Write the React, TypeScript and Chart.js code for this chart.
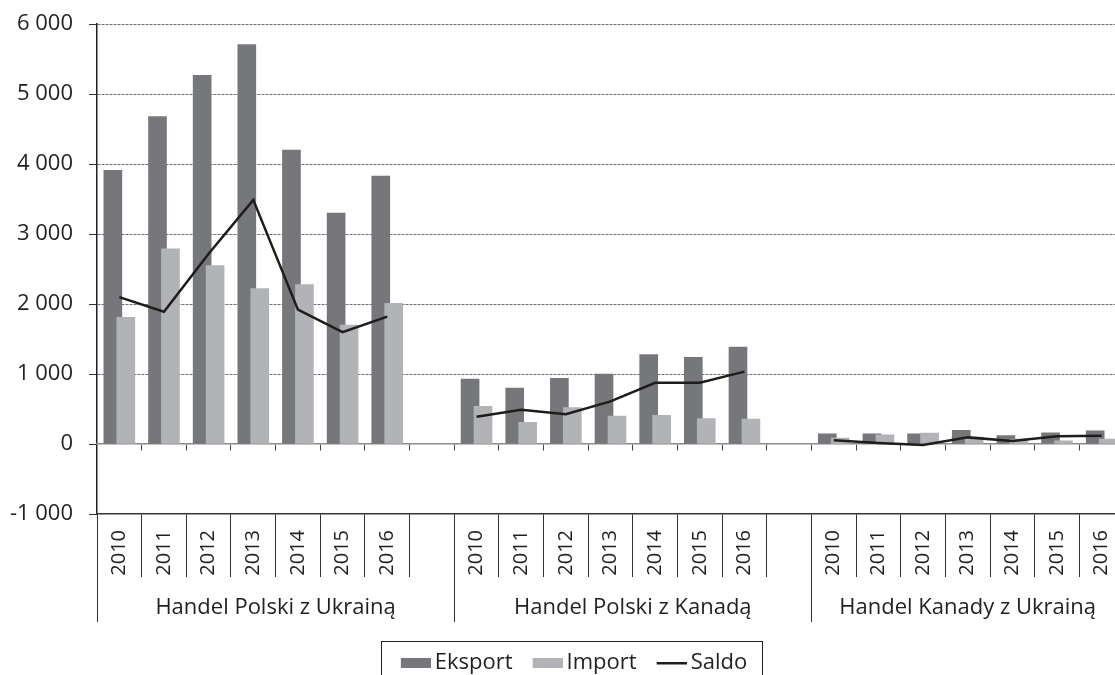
import React, { useEffect, useRef } from 'react';
import { Chart, registerables } from 'chart.js';

Chart.register(...registerables);

// ---------- data ----------
const years = ['2010', '2011', '2012', '2013', '2014', '2015', '2016'];
const groupNames = ['Handel Polski z Ukrainą', 'Handel Polski z Kanadą', 'Handel Kanady z Ukrainą'];

const eksportPlUa = [3910, 4680, 5270, 5710, 4200, 3300, 3830];
const importPlUa = [1810, 2790, 2550, 2220, 2280, 1700, 2010];
const saldoPlUa = [2100, 1890, 2720, 3490, 1920, 1600, 1820];

const eksportPlCa = [930, 800, 940, 1000, 1280, 1240, 1385];
const importPlCa = [540, 310, 520, 400, 410, 365, 355];
const saldoPlCa = [390, 490, 425, 610, 875, 875, 1035];

const eksportCaUa = [145, 145, 145, 195, 120, 160, 190];
const importCaUa = [85, 130, 155, 100, 70, 45, 70];
const saldoCaUa = [55, 15, -15, 95, 45, 110, 120];

const yMin = -1000;
const yMax = 6000;
const yStep = 1000;

// ---------- styling constants ----------
const FONT = "'Open Sans', 'Noto Sans', sans-serif";
const FS = 22;
const FS_YEARS = 20;
const TEXT = '#231f20';
const C_EKS = '#76777b';
const C_IMP = '#b2b3b6';
const C_SAL = '#1d1d1b';
const BAR_SHIFT = 0.145; // offset of each bar centre from the category centre, in categories
const LEGEND_CENTER_X = 574;

// ---------- build series through indices ----------
const groups = [
  { e: eksportPlUa, i: importPlUa, s: saldoPlUa },
  { e: eksportPlCa, i: importPlCa, s: saldoPlCa },
  { e: eksportCaUa, i: importCaUa, s: saldoCaUa },
];

const categoryLabels: string[] = [];
const eksData: { x: number; y: number }[] = [];
const impData: { x: number; y: number }[] = [];
const salData: { x: number; y: number | null }[] = [];
const groupStarts: number[] = [];

groups.forEach((g, gi) => {
  if (gi > 0) {
    salData.push({ x: categoryLabels.length, y: null });
    categoryLabels.push('');
  }
  groupStarts.push(categoryLabels.length - 0.5);
  years.forEach((yr, k) => {
    const idx = categoryLabels.length;
    categoryLabels.push(yr);
    eksData.push({ x: idx - BAR_SHIFT, y: g.e[k] });
    impData.push({ x: idx + BAR_SHIFT, y: g.i[k] });
    salData.push({ x: idx, y: g.s[k] });
  });
});
const N = categoryLabels.length;
const groupBounds = [...groupStarts, N - 0.5];
const groupCenters = groupNames.map((_, gi) => (groupBounds[gi] + groupBounds[gi + 1]) / 2);
const categoryBoundaries = Array.from({ length: N }, (_, k) => k + 0.5);

const fmt = (v: number) => {
  const s = Math.abs(v).toString().replace(/\B(?=(\d{3})+(?!\d))/g, ' ');
  return v < 0 ? '-' + s : s;
};

function makeMarker(color: string, kind: 'rect' | 'line') {
  const c = document.createElement('canvas');
  c.width = 37;
  c.height = 12;
  const g = c.getContext('2d')!;
  g.fillStyle = color;
  if (kind === 'rect') g.fillRect(7, 1, 30, 10);
  else g.fillRect(7, 5, 30, 2.5);
  return c;
}

const legendPlacePlugin = {
  id: 'legendPlace',
  afterLayout(chart: any) {
    const lg = chart.legend;
    if (!lg) return;
    const dx = LEGEND_CENTER_X - (lg.left + lg.right) / 2;
    lg.left += dx;
    lg.right += dx;
  },
  afterDraw(chart: any) {
    const lg = chart.legend;
    if (!lg || !lg.legendHitBoxes || !lg.legendHitBoxes.length) return;
    const hb = lg.legendHitBoxes;
    const left = hb[0].left - 20;
    const last = hb[hb.length - 1];
    const right = last.left + last.width + 15;
    const cy = hb[0].top + hb[0].height / 2;
    const ctx = chart.ctx;
    ctx.save();
    ctx.strokeStyle = '#231f20';
    ctx.lineWidth = 1;
    ctx.strokeRect(Math.round(left) + 0.5, Math.round(cy - 22) + 0.5, Math.round(right - left), 42);
    ctx.restore();
  },
};

export default function App() {
  const ref = useRef<HTMLCanvasElement>(null);
  useEffect(() => {
    if (!ref.current) return;
    Chart.defaults.font.family = FONT;
    Chart.defaults.color = TEXT;
    const markers = [makeMarker(C_EKS, 'rect'), makeMarker(C_IMP, 'rect'), makeMarker(C_SAL, 'line')];
    const chart = new Chart(ref.current, {
      type: 'bar',
      data: {
        datasets: [
          {
            type: 'bar',
            label: 'Eksport',
            data: eksData as any,
            backgroundColor: C_EKS,
            borderWidth: 0,
            barThickness: 18,
            grouped: false,
            order: 3,
            xAxisID: 'x',
            yAxisID: 'y',
          } as any,
          {
            type: 'bar',
            label: 'Import',
            data: impData as any,
            backgroundColor: C_IMP,
            borderWidth: 0,
            barThickness: 18,
            grouped: false,
            order: 2,
            xAxisID: 'x',
            yAxisID: 'y',
          } as any,
          {
            type: 'line',
            label: 'Saldo',
            data: salData as any,
            borderColor: C_SAL,
            backgroundColor: C_SAL,
            borderWidth: 2.5,
            pointRadius: 0,
            tension: 0,
            spanGaps: false,
            order: 1,
            xAxisID: 'x',
            yAxisID: 'y',
          } as any,
        ],
      },
      options: {
        responsive: false,
        animation: false,
        devicePixelRatio: 1,
        layout: { padding: { left: 0, right: 16, top: 24, bottom: 11 } },
        scales: {
          y: {
            type: 'linear',
            position: 'left',
            min: yMin,
            max: yMax,
            ticks: {
              stepSize: yStep,
              padding: 16,
              color: TEXT,
              font: { size: FS, family: FONT },
              callback: (v: any) => fmt(Number(v)),
            },
            grid: {
              color: (ctx: any) =>
                ctx.tick && (ctx.tick.value === 0 || ctx.tick.value === yMin) ? 'rgba(0,0,0,0)' : '#707070',
              tickColor: '#333',
              tickLength: 8,
              lineWidth: 1,
            },
            border: { display: true, color: '#231f20', width: 1.5, dash: [3, 1] },
            afterFit: (s: any) => {
              s.width = 97;
            },
          },
          x: {
            type: 'linear',
            position: { y: 0 } as any,
            offset: false,
            min: -0.5,
            max: N - 0.5,
            afterBuildTicks: (s: any) => {
              s.ticks = categoryBoundaries.map((v) => ({ value: v }));
            },
            ticks: { display: false },
            grid: { offset: false, drawOnChartArea: false, tickLength: 6, color: '#444', lineWidth: 1 },
            border: { display: true, color: '#8a8a8a', width: 1.5 },
          },
          xYears: {
            type: 'category',
            labels: categoryLabels,
            position: 'bottom',
            offset: true,
            weight: 1,
            grid: { offset: true, drawOnChartArea: false, tickLength: 63, color: '#333', lineWidth: 1 },
            border: { display: true, color: '#333', width: 1.5 },
            ticks: {
              autoSkip: false,
              minRotation: 90,
              maxRotation: 90,
              padding: -47,
              color: TEXT,
              font: { size: FS_YEARS, family: FONT },
            },
            afterFit: (s: any) => {
              s.height = 63;
            },
          },
          xGroups: {
            type: 'linear',
            position: 'bottom',
            offset: false,
            min: -0.5,
            max: N - 0.5,
            weight: 2,
            afterBuildTicks: (s: any) => {
              const vals = [...groupBounds, ...groupCenters].sort((a, b) => a - b);
              s.ticks = vals.map((v) => ({ value: v }));
            },
            ticks: {
              autoSkip: false,
              maxRotation: 0,
              minRotation: 0,
              padding: -27,
              color: TEXT,
              font: { size: FS, family: FONT },
              callback: (v: any) => {
                const gi = groupCenters.indexOf(Number(v));
                return gi >= 0 ? groupNames[gi] : '';
              },
            },
            grid: {
              offset: false,
              drawOnChartArea: false,
              tickLength: 45,
              lineWidth: 1,
              color: (ctx: any) =>
                ctx.tick && groupBounds.includes(ctx.tick.value) ? '#333' : 'rgba(0,0,0,0)',
            },
            border: { display: false },
            afterFit: (s: any) => {
              s.height = 55;
            },
          },
        },
        plugins: {
          tooltip: { enabled: false },
          legend: {
            position: 'bottom',
            labels: {
              usePointStyle: true,
              pointStyleWidth: 23,
              boxHeight: 12,
              padding: 20,
              color: TEXT,
              font: { size: FS, family: FONT },
              sort: (a: any, b: any) => a.datasetIndex - b.datasetIndex,
              generateLabels: (chart: any) => {
                const items = (Chart.defaults.plugins.legend.labels as any).generateLabels(chart);
                return items.map((it: any) => ({
                  ...it,
                  pointStyle: markers[it.datasetIndex],
                  lineWidth: 0,
                }));
              },
            },
          },
        },
      } as any,
      plugins: [legendPlacePlugin],
    });
    return () => chart.destroy();
  }, []);

  return (
    <div
      style={{
        position: 'fixed',
        left: 0,
        top: 0,
        width: 1115,
        height: 675,
        overflow: 'hidden',
        background: '#ffffff',
      }}
    >
      <canvas
        ref={ref}
        width={1140}
        height={700}
        style={{ position: 'absolute', left: 0, top: -5, display: 'block', width: 1140, height: 700 }}
      />
    </div>
  );
}
